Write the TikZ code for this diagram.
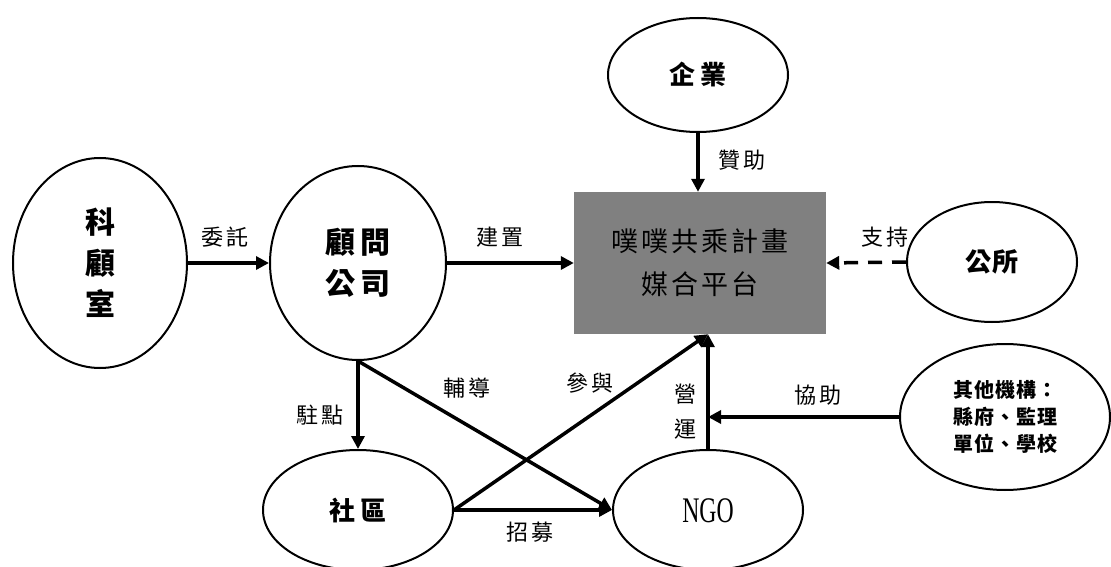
\documentclass[tikz,border=0pt]{standalone}
\usepackage{fontspec}
\newfontfamily\cjk{Noto Sans CJK TC}
\newfontfamily\latinserif{Liberation Serif}
\usetikzlibrary{shapes.geometric,arrows.meta}
\tikzset{
  ell/.style={ellipse,draw,line width=2pt,inner sep=0pt},
  arr/.style={line width=3.5pt,-{Triangle[length=13pt,width=13pt]}},
  lbl/.style={font=\cjk\fontsize{22pt}{26pt}\selectfont\addfontfeatures{LetterSpace=14},inner sep=0pt},
  bigtxt/.style={font=\cjk\bfseries\fontsize{30pt}{41pt}\selectfont\addfontfeatures{LetterSpace=17},align=center},
  midtxt/.style={font=\cjk\bfseries\fontsize{26pt}{30pt}\selectfont\addfontfeatures{LetterSpace=22},align=center},
}
\begin{document}
\begin{tikzpicture}[x=1pt,y=-1pt]
\useasboundingbox (0,0) rectangle (1111,567);
% nodes
\node[ell,minimum width=174pt,minimum height=210pt,bigtxt] (kgs) at (100,263) {科\\顧\\室};
\node[ell,minimum width=176pt,minimum height=194pt,bigtxt] (gw) at (358,263) {顧問\\公司};
\node[ell,minimum width=180pt,minimum height=114pt,midtxt] (qy) at (698,75) {企業};
\node[rectangle,fill=gray,minimum width=252pt,minimum height=142pt,inner sep=0pt,
  font=\cjk\fontsize{27pt}{43pt}\selectfont\addfontfeatures{LetterSpace=11},align=center] (plat) at (700,263) {噗噗共乘計畫\\媒合平台};
\node[ell,minimum width=170pt,minimum height=120pt,midtxt,font=\cjk\bfseries\fontsize{26pt}{30pt}\selectfont\addfontfeatures{LetterSpace=5}] (gs) at (992,262) {公所};
\node[ell,minimum width=190pt,minimum height=120pt,midtxt] (sq) at (358,510) {社區};
\node[ell,minimum width=190pt,minimum height=120pt] (ngo) at (708,510) {};
\node[font=\latinserif\fontsize{36pt}{40pt}\selectfont,inner sep=0pt] (ngotxt) at (708,511) {\scalebox{0.66}[1]{NGO}};
\node[ell,minimum width=210pt,minimum height=146pt,align=center,
  font=\cjk\bfseries\fontsize{20pt}{27pt}\selectfont\addfontfeatures{LetterSpace=5}] (oth) at (1005,417) {其他機構：\\縣府、監理\\單位、學校};
% connector end points
\coordinate (pbot) at (ngo.north |- plat.south);
\coordinate (ptop) at (qy.south |- plat.north);
\coordinate (helpend) at (ngo.north |- oth.west);
% connectors
\draw[arr] (kgs.east) -- (gw.west);
\draw[arr] (gw.east) -- (plat.west);
\draw[arr] (qy.south) -- (ptop);
\draw[arr,dash pattern=on 14pt off 10pt] (gs.west) -- (plat.east);
\draw[arr] (gw.south) -- (sq.north);
\draw[arr] (gw.south) -- (ngo.west);
\draw[arr] (sq.east) -- (pbot);
\draw[arr] (sq.east) -- (ngo.west);
\draw[arr] (ngo.north) -- (pbot);
\draw[arr] (oth.west) -- (helpend);
% labels
\node[lbl] (l1) at (225,237) {委託};
\node[lbl] (l2) at (500,237) {建置};
\node[lbl] (l3) at (742,160) {贊助};
\node[lbl] (l4) at (885,237) {支持};
\node[lbl] (l5) at (320,415) {駐點};
\node[lbl] (l6) at (467,388) {輔導};
\node[lbl] (l7) at (590,383) {參與};
\node[lbl] (l8) at (530,532) {招募};
\node[lbl,align=center,font=\cjk\fontsize{22pt}{35pt}\selectfont] (l9) at (685,412) {營\\運};
\node[lbl] (l10) at (818,395) {協助};
\end{tikzpicture}
\end{document}
